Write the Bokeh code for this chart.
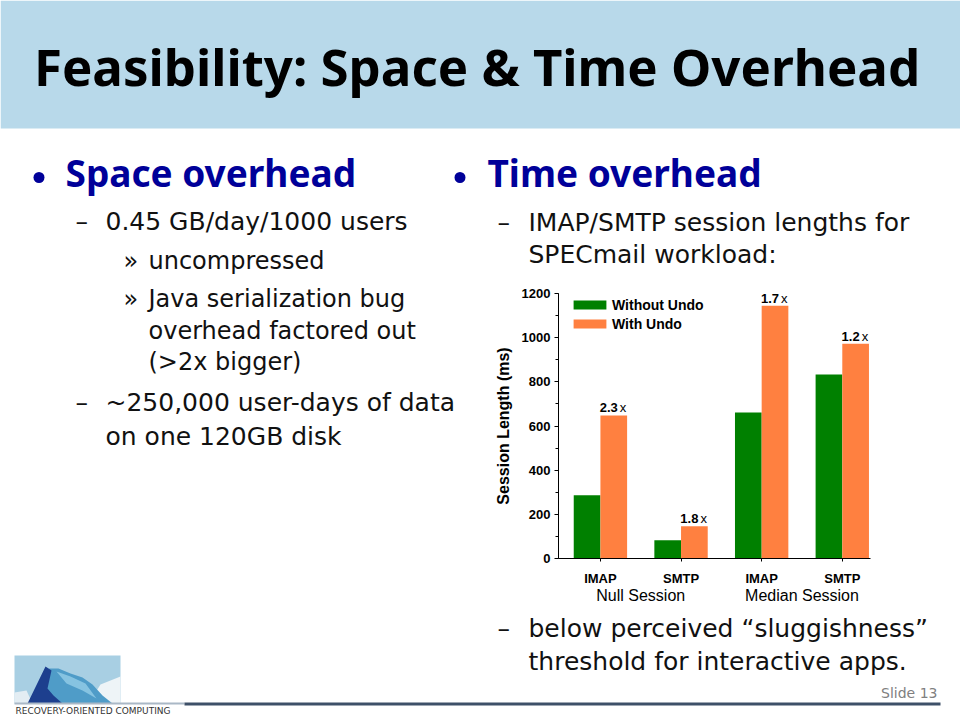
from bokeh.plotting import figure
from bokeh.layouts import column, row
from bokeh.models import (Range1d, FixedTicker, SingleIntervalTicker, LinearAxis,
                          Legend, LegendItem, ColumnDataSource)
from bokeh.core.properties import value
from bokeh.embed import file_html
from bokeh.resources import INLINE

# ---------------- chart data ----------------
categories = ["IMAP", "SMTP", "IMAP", "SMTP"]
session_groups = ["Null Session", "Median Session"]
group_of = [0, 0, 1, 1]
without_undo = [286, 83, 661, 833]
with_undo = [648, 146, 1145, 973]
ratio_labels = ["2.3", "1.8", "1.7", "1.2"]
series_names = ["Without Undo", "With Undo"]
y_label = "Session Length (ms)"

# ---------------- slide text ----------------
title_text = "Feasibility: Space & Time Overhead"
left_heading = "Space overhead"
right_heading = "Time overhead"
left_lines = ["0.45 GB/day/1000 users", "uncompressed", "Java serialization bug",
              "overhead factored out", "(>2x bigger)", "~250,000 user-days of data",
              "on one 120GB disk"]
right_top_lines = ["IMAP/SMTP session lengths for", "SPECmail workload:"]
right_bottom_lines = ["below perceived \u201csluggishness\u201d", "threshold for interactive apps."]
slide_no = "Slide 13"
logo_text = "RECOVERY-ORIENTED COMPUTING"

GREEN = "#008000"
ORANGE = "#ff8040"
HEAD_BG = "#b8d9ea"
BLUE = "#000099"
INK = "#111111"
BODY = "DejaVu Sans"
HEADF = "Noto Sans"
CF = "Liberation Sans"
# baseline correction factors (fraction of font size) for the text glyph placement
KB = {BODY: 0.346, HEADF: 0.385, CF: 0.347}


def band(w, h, x0, y0, bg="white"):
    p = figure(width=w, height=h, x_range=Range1d(x0, x0 + w), y_range=Range1d(y0 + h, y0),
               output_backend="svg", toolbar_location=None, min_border=0,
               x_axis_location=None, y_axis_location=None, frame_align=False,
               background_fill_color=bg, border_fill_color=bg, outline_line_color=None)
    p.grid.visible = False
    return p


def put(p, x, y, s, size, font=BODY, color=INK, style="normal", align="left"):
    p.text(x=[x], y=[y], text=[s], text_font=value(font), text_font_size=f"{size}px",
           text_font_style=style, text_color=color, text_align=align,
           text_baseline="alphabetic", y_offset=-KB[font] * size)


# ---------------- top band (0..282) ----------------
TOP_H = 282
top = band(960, TOP_H, 0, 0)
top.quad(left=[0], right=[960], top=[0], bottom=[128], fill_color=HEAD_BG, line_color=None)
put(top, 476.5, 85, title_text, 51, font=HEADF, color="#000000", style="bold", align="center")
top.scatter(x=[38.5, 459.5], y=[177, 177], size=11, marker="circle", fill_color=BLUE, line_color=None)
put(top, 65, 186.7, left_heading, 37, font=HEADF, color=BLUE, style="bold")
put(top, 487, 186.7, right_heading, 37, font=HEADF, color=BLUE, style="bold")
put(top, 75, 230, "\u2013", 25)
put(top, 105, 230, left_lines[0], 25)
put(top, 123, 269, "\u00bb", 24)
put(top, 148, 269, left_lines[1], 24)
put(top, 497, 230.7, "\u2013", 25)
put(top, 528, 230.7, right_top_lines[0], 25)
put(top, 528, 262.7, right_top_lines[1], 25)

# ---------------- middle band (282..610) ----------------
MID_H = 610 - TOP_H
midl = band(490, MID_H, 0, TOP_H)
put(midl, 123, 307, "\u00bb", 24)
put(midl, 148, 307, left_lines[2], 24)
put(midl, 148, 339, left_lines[3], 24)
put(midl, 148, 370, left_lines[4], 24)
put(midl, 75, 410.7, "\u2013", 25)
put(midl, 105, 410.7, left_lines[5], 25)
put(midl, 105, 445, left_lines[6], 25)

midr = band(80, MID_H, 880, TOP_H)

# ---------------- chart ----------------
xpos = list(range(len(categories)))
bar_w = 0.331
x_green = [x - bar_w / 2 for x in xpos]
x_orange = [x + bar_w / 2 for x in xpos]
group_centers = [sum(x for x, g in zip(xpos, group_of) if g == k) / group_of.count(k)
                 for k in range(len(session_groups))]

src = ColumnDataSource(dict(xg=x_green, xo=x_orange, wo=without_undo, wu=with_undo,
                            r=ratio_labels, xs=["x"] * len(xpos)))

c = figure(width=390, height=MID_H, x_range=Range1d(-0.52, 3.35), y_range=Range1d(0, 1200),
           output_backend="svg", toolbar_location=None, frame_align=False,
           min_border_left=68, min_border_right=10, min_border_top=293 - TOP_H,
           min_border_bottom=52,
           outline_line_color=None, background_fill_color="white", border_fill_color="white")
c.grid.visible = False
r1 = c.vbar(x="xg", top="wo", width=bar_w, source=src, fill_color=GREEN, line_color=None)
r2 = c.vbar(x="xo", top="wu", width=bar_w, source=src, fill_color=ORANGE, line_color=None)
lab_dy = -3 - KB[CF] * 13
c.text(x="xo", y="wu", text="r", source=src, x_offset=4, y_offset=lab_dy, text_align="right",
       text_baseline="alphabetic", text_font=value(CF), text_font_size="13px",
       text_font_style="bold", text_color="black")
c.text(x="xo", y="wu", text="xs", source=src, x_offset=6, y_offset=lab_dy, text_align="left",
       text_baseline="alphabetic", text_font=value(CF), text_font_size="13px",
       text_font_style="normal", text_color="black")

ya = c.yaxis[0]
ya.ticker = SingleIntervalTicker(interval=200, num_minor_ticks=2)
ya.axis_label = y_label
ya.axis_label_text_font = CF
ya.axis_label_text_font_size = "16px"
ya.axis_label_text_font_style = "bold"
ya.axis_label_text_color = "black"
ya.axis_label_standoff = 7
ya.major_label_text_font = CF
ya.major_label_text_font_size = "13px"
ya.major_label_text_font_style = "bold"
ya.major_label_text_color = "black"
ya.major_label_standoff = 4
ya.major_tick_in = 0
ya.major_tick_out = 4
ya.minor_tick_in = 0
ya.minor_tick_out = 3
ya.axis_line_color = "black"
ya.major_tick_line_color = "black"
ya.minor_tick_line_color = "black"

xa = c.xaxis[0]
xa.ticker = FixedTicker(ticks=xpos)
xa.major_label_overrides = {x: cat for x, cat in zip(xpos, categories)}
xa.minor_tick_line_color = None
xa.major_tick_in = 0
xa.major_tick_out = 3
xa.major_label_standoff = 9
xa.major_label_text_font = CF
xa.major_label_text_font_size = "13px"
xa.major_label_text_font_style = "bold"
xa.major_label_text_color = "black"
xa.axis_line_color = "black"
xa.major_tick_line_color = "black"

ga = LinearAxis(ticker=FixedTicker(ticks=group_centers),
                major_label_overrides={gc: g for gc, g in zip(group_centers, session_groups)},
                axis_line_color=None, major_tick_line_color=None, minor_tick_line_color=None,
                major_tick_in=0, major_tick_out=0,
                major_label_standoff=-2, major_label_text_font=CF,
                major_label_text_font_size="16px", major_label_text_color="black")
c.add_layout(ga, "below")

legend = Legend(items=[LegendItem(label=series_names[0], renderers=[r1]),
                       LegendItem(label=series_names[1], renderers=[r2])],
                location=(11, 225), padding=0, margin=0, spacing=0,
                border_line_color=None, background_fill_alpha=0,
                glyph_width=41, glyph_height=11, label_height=19, label_standoff=2,
                label_text_font=CF, label_text_font_size="14px",
                label_text_font_style="bold", label_text_color="black")
c.add_layout(legend)

# ---------------- bottom band (610..720) ----------------
bot = band(960, 110, 0, 610)
put(bot, 497, 637, "\u2013", 25)
put(bot, 528, 637, right_bottom_lines[0], 25)
put(bot, 528, 670, right_bottom_lines[1], 25)
put(bot, 937, 697, slide_no, 14, color="#808080", align="right")
# logo
bot.quad(left=[14], right=[120], top=[655], bottom=[703], fill_color="#a8cfe3", line_color=None)
bot.patches(xs=[[88, 100, 120, 120], [14, 14, 26, 32]],
            ys=[[703, 684, 676, 703], [703, 692, 690, 703]],
            fill_color=["#eef4f7", "#e3edf3"], line_color=None)
bot.patch(x=[40, 48, 58, 70, 82, 92, 102, 112], y=[703, 668, 668, 673, 677, 684, 695, 703],
          fill_color="#4f9cc8", line_color=None)
bot.patch(x=[56, 70, 85, 96, 82, 66], y=[671, 676, 683, 698, 690, 683],
          fill_color="#86c3e1", line_color=None)
bot.patch(x=[27, 45, 51, 47, 53, 62], y=[703, 666, 670, 688, 695, 703],
          fill_color="#1d3f8e", line_color=None)
bot.segment(x0=[14], y0=[703], x1=[184], y1=[703], line_color="#aab8c6", line_width=2)
bot.segment(x0=[184], y0=[703.5], x1=[940], y1=[703.5], line_color="#3e5068", line_width=3)
put(bot, 15, 714, logo_text, 9, color="#333333")

layout = column(top, row(midl, c, midr), bot)

open("out.html", "w").write(file_html(layout, INLINE))
